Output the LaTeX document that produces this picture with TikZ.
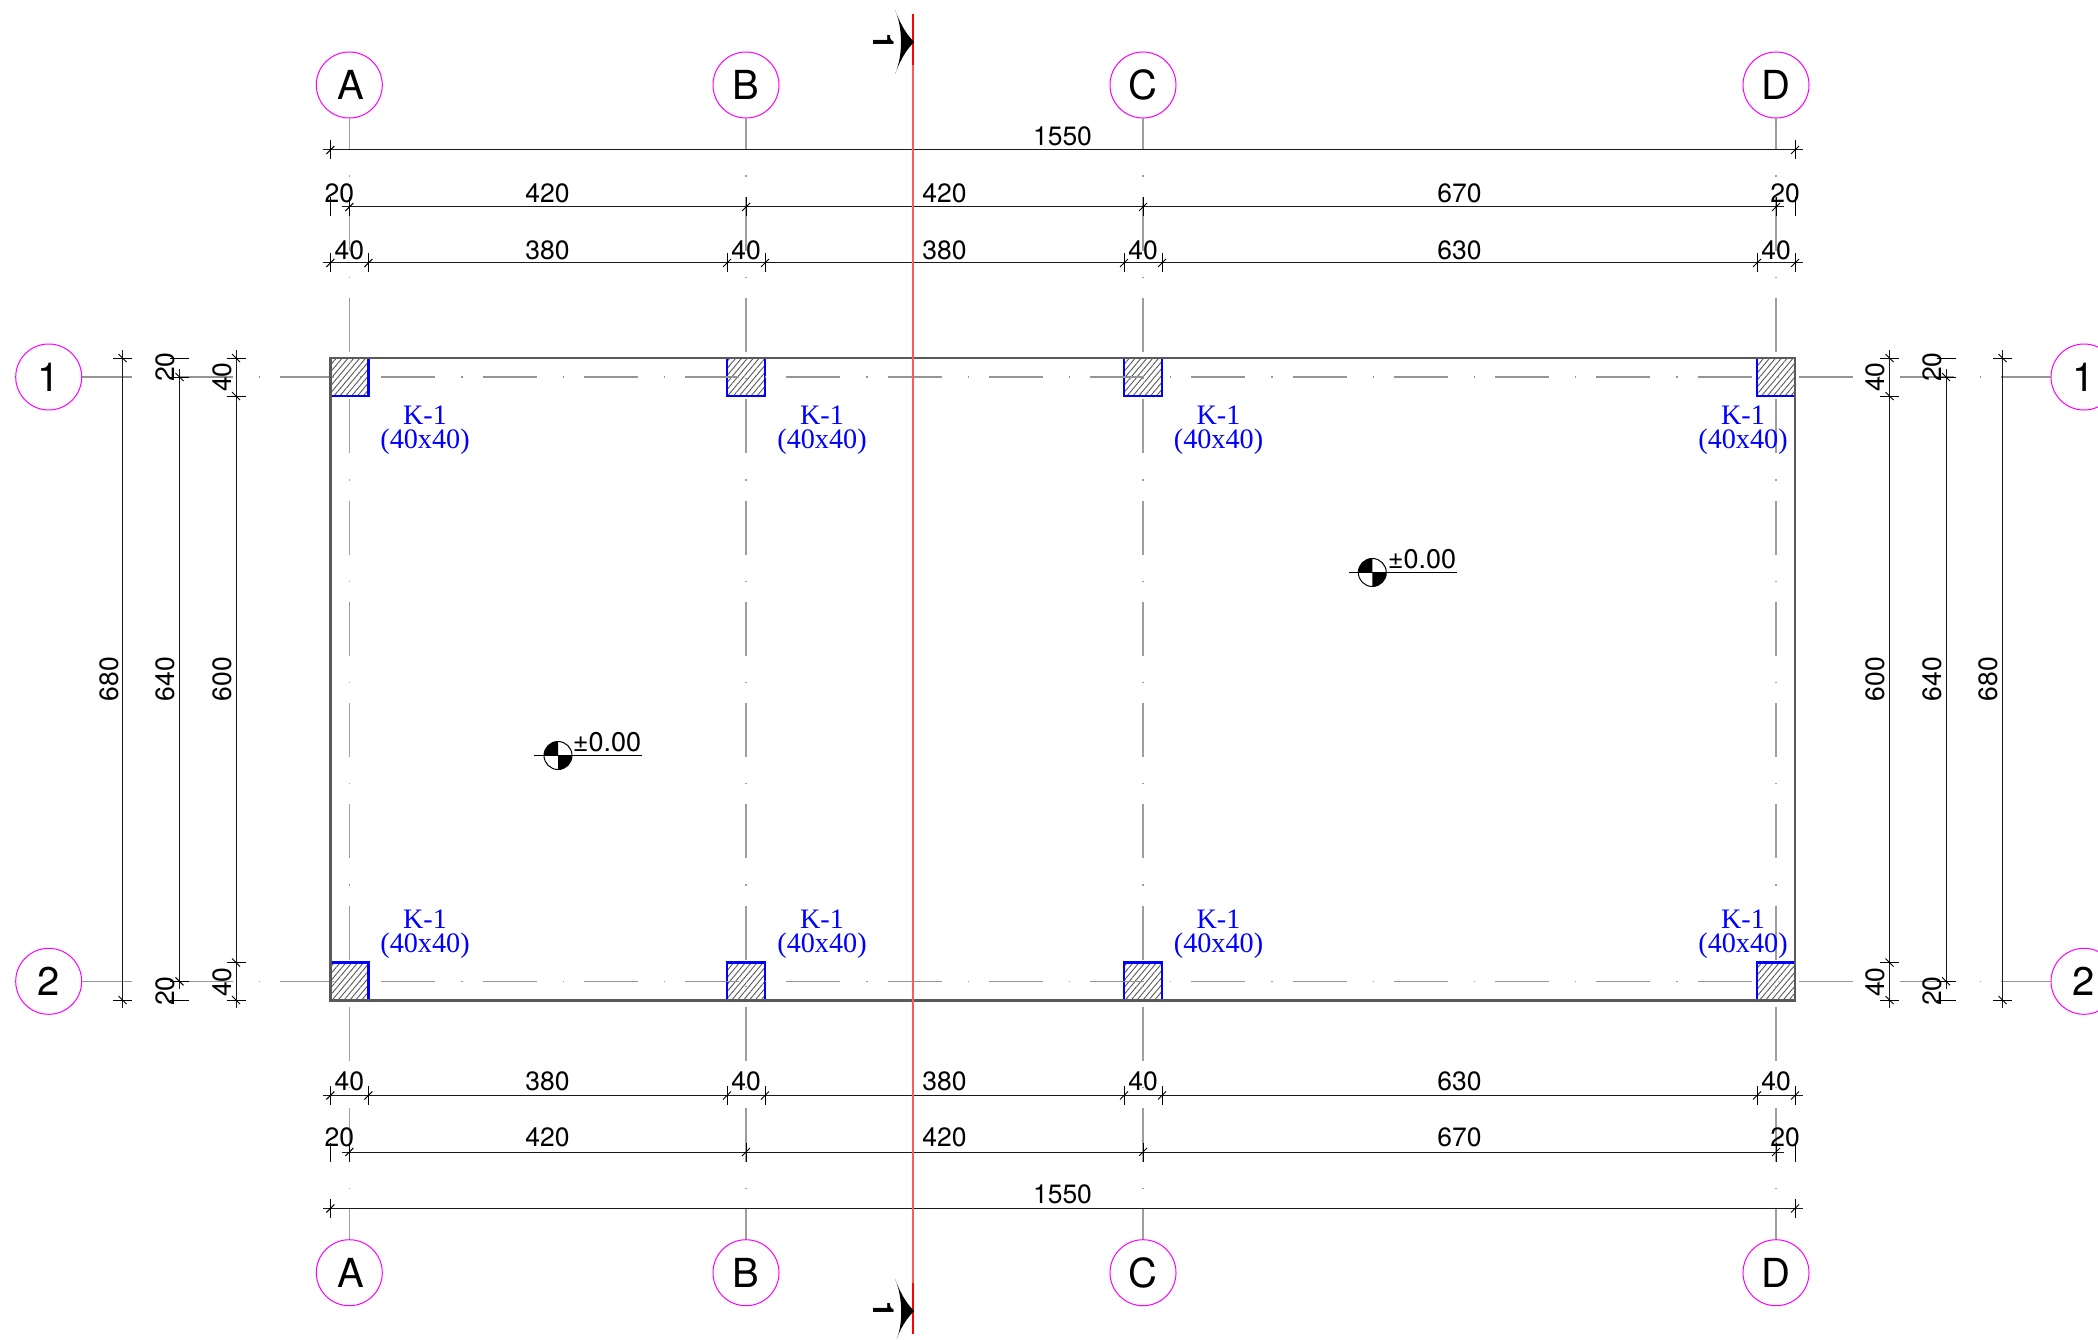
\documentclass[tikz,border=0pt]{standalone}
\usepackage{fontspec}
\setmainfont{TeX Gyre Heros}
\newfontfamily\kfont{Liberation Serif}
\usetikzlibrary{patterns.meta}
\definecolor{gridpink}{RGB}{255,0,255}
\definecolor{columnblue}{RGB}{0,0,255}
\definecolor{sectionred}{RGB}{255,0,0}
\tikzset{
	axisnode/.style={circle,draw=gridpink,line width=1pt,minimum size=66pt,inner sep=0pt,font=\fontsize{40}{40}\selectfont},
	colaxis/.style={draw=black!38,line width=1.25pt,dash pattern=on 54pt off 26pt on 1.25pt off 20pt,dash phase=23pt},
	rowaxis/.style={draw=black!42,line width=1.25pt,dash pattern=on 54pt off 26pt on 1.25pt off 20pt,dash phase=4.6pt},
	column/.style={rectangle,draw=columnblue,line width=2.4pt,minimum size=38pt,inner sep=0pt,pattern={Lines[angle=50,distance=4.5pt,line width=.9pt]},pattern color=black!65},
	wall/.style={draw=black!65,line width=2.4pt},
	dimline/.style={draw=black!90,line width=1pt},
	tickbar/.style={draw=black,line width=1pt},
	dimtext/.style={inner sep=0pt,font=\fontsize{26.5}{26.5}\selectfont},
	dimtextv/.style={dimtext,rotate=90},
	collabel/.style={inner sep=0pt,align=center,text=columnblue,font=\kfont\fontsize{28.2}{24.5}\selectfont},
	levelmark/.style={circle,draw=black,line width=1pt,minimum size=28pt,inner sep=0pt},
	leveltext/.style={inner sep=0pt,font=\fontsize{27}{27}\selectfont},
	sectiontext/.style={inner sep=0pt,rotate=-90,font=\bfseries\fontsize{29}{29}\selectfont},
	htick/.pic={\draw[tickbar] (0,-9.5)--(0,9.5); \draw[tickbar] (-4,4)--(4,-4);},
	vtick/.pic={\draw[tickbar] (-9.5,0)--(9.5,0); \draw[tickbar] (-4,-4)--(4,4);},
	hstub/.pic={\draw[tickbar] (0,-9.5)--(0,9.5);},
	vstub/.pic={\draw[tickbar] (-9.5,0)--(9.5,0);}
}
\begin{document}
\begin{tikzpicture}[x=1pt,y=-1pt]
	\useasboundingbox (0,0) rectangle (2098,1340);
	\fill[white] (0,0) rectangle (2098,1340);
	\node[axisnode] (at) at (349.3,85) {\hspace{4pt}A};
	\node[axisnode] (bt) at (746,85) {B};
	\node[axisnode] (ct) at (1143,85) {C};
	\node[axisnode] (dt) at (1776,85) {D};
	\node[axisnode] (ab) at (349.3,1272.7) {\hspace{4pt}A};
	\node[axisnode] (bb) at (746,1272.7) {B};
	\node[axisnode] (cb) at (1143,1272.7) {C};
	\node[axisnode] (db) at (1776,1272.7) {D};
	\node[axisnode] (r1l) at (48.7,377) {1};
	\node[axisnode] (r2l) at (48.7,981.3) {2};
	\node[axisnode] (r1r) at (2084,377) {1};
	\node[axisnode] (r2r) at (2084,981.3) {2};
	\node[column] (ka1) at (349.3,377) {};
	\node[column] (kb1) at (746,377) {};
	\node[column] (kc1) at (1143,377) {};
	\node[column] (kd1) at (1776,377) {};
	\node[column] (ka2) at (349.3,981.3) {};
	\node[column] (kb2) at (746,981.3) {};
	\node[column] (kc2) at (1143,981.3) {};
	\node[column] (kd2) at (1776,981.3) {};
	\draw[colaxis] (at) -- (ab);
	\draw[colaxis] (bt) -- (bb);
	\draw[colaxis] (ct) -- (cb);
	\draw[colaxis] (dt) -- (db);
	\draw[rowaxis] (r1l) -- (r1r);
	\draw[rowaxis] (r2l) -- (r2r);
	\draw[wall] (330.3,358) rectangle (1795,1000.3);
	\coordinate (d1a) at (322.7,150);
	\coordinate (d1b) at (1803,150);
	\coordinate (d2a) at (341.7,207);
	\coordinate (d2b) at (1784,207);
	\coordinate (d3a) at (322.7,263);
	\coordinate (d3b) at (1803,263);
	\coordinate (d4a) at (322.7,1095.5);
	\coordinate (d4b) at (1803,1095.5);
	\coordinate (d5a) at (341.7,1152);
	\coordinate (d5b) at (1784,1152);
	\coordinate (d6a) at (322.7,1208.5);
	\coordinate (d6b) at (1803,1208.5);
	\coordinate (v1a) at (122.5,350);
	\coordinate (v1b) at (122.5,1008);
	\coordinate (v2a) at (179.5,369);
	\coordinate (v2b) at (179.5,989);
	\coordinate (v3a) at (236,350);
	\coordinate (v3b) at (236,1008);
	\coordinate (v4a) at (1889.5,350);
	\coordinate (v4b) at (1889.5,1008);
	\coordinate (v5a) at (1946,369);
	\coordinate (v5b) at (1946,989);
	\coordinate (v6a) at (2002.5,350);
	\coordinate (v6b) at (2002.5,1008);
	\draw[dimline] (d1a) -- (d1b);
	\draw[dimline] (d2a) -- (d2b);
	\draw[dimline] (d3a) -- (d3b);
	\draw[dimline] (d4a) -- (d4b);
	\draw[dimline] (d5a) -- (d5b);
	\draw[dimline] (d6a) -- (d6b);
	\draw[dimline] (v1a) -- (v1b);
	\draw[dimline] (v2a) -- (v2b);
	\draw[dimline] (v3a) -- (v3b);
	\draw[dimline] (v4a) -- (v4b);
	\draw[dimline] (v5a) -- (v5b);
	\draw[dimline] (v6a) -- (v6b);
	\pic at (330.3,150) {htick};
	\pic at (1795,150) {htick};
	\pic at (330.3,207) {hstub};
	\pic at (349.3,207) {htick};
	\pic at (746,207) {htick};
	\pic at (1143,207) {htick};
	\pic at (1776,207) {htick};
	\pic at (1795,207) {hstub};
	\pic at (330.3,263) {htick};
	\pic at (368.3,263) {htick};
	\pic at (727,263) {htick};
	\pic at (765,263) {htick};
	\pic at (1124,263) {htick};
	\pic at (1162,263) {htick};
	\pic at (1757,263) {htick};
	\pic at (1795,263) {htick};
	\pic at (330.3,1095.5) {htick};
	\pic at (368.3,1095.5) {htick};
	\pic at (727,1095.5) {htick};
	\pic at (765,1095.5) {htick};
	\pic at (1124,1095.5) {htick};
	\pic at (1162,1095.5) {htick};
	\pic at (1757,1095.5) {htick};
	\pic at (1795,1095.5) {htick};
	\pic at (330.3,1152) {hstub};
	\pic at (349.3,1152) {htick};
	\pic at (746,1152) {htick};
	\pic at (1143,1152) {htick};
	\pic at (1776,1152) {htick};
	\pic at (1795,1152) {hstub};
	\pic at (330.3,1208.5) {htick};
	\pic at (1795,1208.5) {htick};
	\pic at (122.5,358) {vtick};
	\pic at (122.5,1000) {vtick};
	\pic at (179.5,358) {vstub};
	\pic at (179.5,377) {vtick};
	\pic at (179.5,981.3) {vtick};
	\pic at (179.5,1000) {vstub};
	\pic at (236,358) {vtick};
	\pic at (236,396) {vtick};
	\pic at (236,962.5) {vtick};
	\pic at (236,1000) {vtick};
	\pic at (1889.5,358) {vtick};
	\pic at (1889.5,396) {vtick};
	\pic at (1889.5,962.5) {vtick};
	\pic at (1889.5,1000) {vtick};
	\pic at (1946,358) {vstub};
	\pic at (1946,377) {vtick};
	\pic at (1946,981.3) {vtick};
	\pic at (1946,1000) {vstub};
	\pic at (2002.5,358) {vtick};
	\pic at (2002.5,1000) {vtick};
	\node[dimtext] (t1) at (1062.5,136) {1550};
	\node[dimtext] (t2) at (339.3,193.5) {20};
	\node[dimtext] (t3) at (547.5,193.5) {420};
	\node[dimtext] (t4) at (944.5,193.5) {420};
	\node[dimtext] (t5) at (1459.5,193.5) {670};
	\node[dimtext] (t6) at (1785,193.5) {20};
	\node[dimtext] (t7) at (349.3,250) {40};
	\node[dimtext] (t8) at (547.5,250) {380};
	\node[dimtext] (t9) at (746,250) {40};
	\node[dimtext] (t10) at (944.5,250) {380};
	\node[dimtext] (t11) at (1143,250) {40};
	\node[dimtext] (t12) at (1459.5,250) {630};
	\node[dimtext] (t13) at (1776,250) {40};
	\node[dimtext] (t14) at (349.3,1081) {40};
	\node[dimtext] (t15) at (547.5,1081) {380};
	\node[dimtext] (t16) at (746,1081) {40};
	\node[dimtext] (t17) at (944.5,1081) {380};
	\node[dimtext] (t18) at (1143,1081) {40};
	\node[dimtext] (t19) at (1459.5,1081) {630};
	\node[dimtext] (t20) at (1776,1081) {40};
	\node[dimtext] (t21) at (339.3,1137.7) {20};
	\node[dimtext] (t22) at (547.5,1137.7) {420};
	\node[dimtext] (t23) at (944.5,1137.7) {420};
	\node[dimtext] (t24) at (1459.5,1137.7) {670};
	\node[dimtext] (t25) at (1785,1137.7) {20};
	\node[dimtext] (t26) at (1062.5,1194) {1550};
	\node[dimtextv] (s1) at (109,679) {680};
	\node[dimtextv] (s2) at (165,367) {20};
	\node[dimtextv] (s3) at (165,679) {640};
	\node[dimtextv] (s4) at (165,991) {20};
	\node[dimtextv] (s5) at (222,377) {40};
	\node[dimtextv] (s6) at (222,679) {600};
	\node[dimtextv] (s7) at (222,982) {40};
	\node[dimtextv] (s8) at (1875,377) {40};
	\node[dimtextv] (s9) at (1875,679) {600};
	\node[dimtextv] (s10) at (1875,982) {40};
	\node[dimtextv] (s11) at (1932,367) {20};
	\node[dimtextv] (s12) at (1932,679) {640};
	\node[dimtextv] (s13) at (1932,991) {20};
	\node[dimtextv] (s14) at (1988,679) {680};
	\node[collabel] (la1) at (425,430) {K-1\\(40x40)};
	\node[collabel] (lb1) at (822,430) {K-1\\(40x40)};
	\node[collabel] (lc1) at (1218.5,430) {K-1\\(40x40)};
	\node[collabel] (ld1) at (1743,430) {K-1\\(40x40)};
	\node[collabel] (la2) at (425,934) {K-1\\(40x40)};
	\node[collabel] (lb2) at (822,934) {K-1\\(40x40)};
	\node[collabel] (lc2) at (1218.5,934) {K-1\\(40x40)};
	\node[collabel] (ld2) at (1743,934) {K-1\\(40x40)};
	\coordinate (m1a) at (534,755.5);
	\coordinate (m1b) at (641.7,755.5);
	\coordinate (m2a) at (1349,572.5);
	\coordinate (m2b) at (1456.7,572.5);
	\node[levelmark] (m1) at (558,755.5) {};
	\node[levelmark] (m2) at (1372.3,572.5) {};
	\fill[black] (m1.center) -- ++(-14,0) arc[start angle=180,end angle=90,radius=14pt] -- cycle;
	\fill[black] (m1.center) -- ++(14,0) arc[start angle=0,end angle=-90,radius=14pt] -- cycle;
	\fill[black] (m2.center) -- ++(-14,0) arc[start angle=180,end angle=90,radius=14pt] -- cycle;
	\fill[black] (m2.center) -- ++(14,0) arc[start angle=0,end angle=-90,radius=14pt] -- cycle;
	\draw[tickbar] (m1a) -- (m1b);
	\draw[tickbar] (m2a) -- (m2b);
	\node[leveltext] (mt1) at (607,742) {±0.00};
	\node[leveltext] (mt2) at (1422,558.8) {±0.00};
	\coordinate (sa) at (913,14);
	\coordinate (sb) at (913,65);
	\coordinate (sc) at (913,1283);
	\coordinate (sd) at (913,1334);
	\draw[sectionred!65,line width=1.3pt] (sa) -- (sd);
	\draw[sectionred,line width=2.4pt] (sa) -- (sb);
	\draw[sectionred,line width=2.4pt] (sc) -- (sd);
	\fill[black] (895,10) .. controls (902,28) and (908,36) .. (914.3,42) .. controls (908,48) and (902,56) .. (895,74) .. controls (903,56) and (903,28) .. (895,10) -- cycle;
	\fill[black] (895,1279) .. controls (902,1297) and (908,1305) .. (914.3,1311) .. controls (908,1317) and (902,1325) .. (896.5,1339) .. controls (903,1325) and (903,1297) .. (895,1279) -- cycle;
	\node[sectiontext] (st1) at (884,42) {1};
	\node[sectiontext] (st2) at (884,1310) {1};
\end{tikzpicture}
\end{document}
